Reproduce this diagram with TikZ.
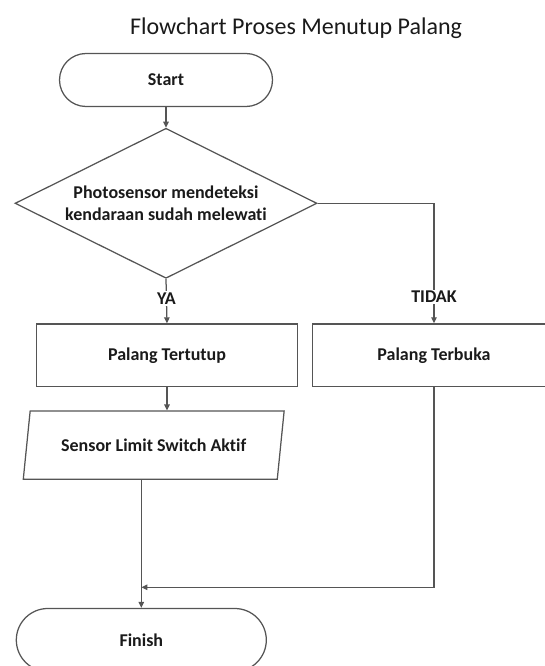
\documentclass[tikz,border=0pt]{standalone}
\usepackage{fontspec}
\setmainfont[Ligatures=NoCommon]{Carlito}
\usetikzlibrary{arrows.meta,shapes.geometric}
\definecolor{linec}{HTML}{555555}
\definecolor{textc}{HTML}{1A1A1A}
\begin{document}
\begin{tikzpicture}[x=1pt,y=-1pt,
  base/.style={draw=linec,line width=1.25pt,text=textc,font=\fontsize{18}{22}\selectfont\bfseries,inner sep=0pt,align=center},
  terminal/.style={base,rectangle,rounded corners=#1},
  procbox/.style={base,rectangle},
  decision/.style={base,diamond,aspect=2},
  iobox/.style={base,trapezium,trapezium left angle=68,trapezium right angle=112,trapezium stretches=true},
  lbl/.style={fill=white,text=textc,font=\fontsize{18}{21}\selectfont\bfseries,inner sep=1.5pt},
  arrow/.style={draw=linec,line width=1.25pt,-{Triangle[length=6pt,width=5.5pt]}},
  conn/.style={draw=linec,line width=1.25pt}
]
\useasboundingbox (0,0) rectangle (545,666);

\node[font=\fontsize{24}{28}\selectfont,text=textc,anchor=base] (title) at (296,35) {Flowchart Proses Menutup Palang};

\node[terminal=26.5pt,minimum width=213pt,minimum height=53pt] (start) at (166,80) {Start};
\node[decision,minimum width=302pt,minimum height=150pt] (dia) at (166,203.3) {Photosensor mendeteksi\\kendaraan sudah melewati};
\node[procbox,minimum width=261pt,minimum height=62.7pt] (tertutup) at (167,355.3) {Palang Tertutup};
\node[procbox,minimum width=243pt,minimum height=62.7pt] (terbuka) at (434,355.3) {Palang Terbuka};
\node[iobox,minimum width=261pt,minimum height=68.3pt] (sensor) at (153.7,445.2) {Sensor Limit Switch Aktif};
\node[terminal=31.5pt,minimum width=250pt,minimum height=63pt] (finish) at (141.3,640) {Finish};
\coordinate (join) at (141.3,587.3);

\draw[arrow] (start.south) -- (dia.north);
\draw[arrow] (dia.south) -- node[lbl,pos=0.44]{YA} (tertutup.north);
\draw[arrow] (dia.east) -| node[lbl,pos=0.89]{TIDAK} (terbuka.north);
\draw[arrow] (tertutup.south) -- (tertutup.south |- sensor.north);
\draw[arrow] (sensor.south -| finish.north) -- (finish.north);
\draw[arrow] (terbuka.south) |- (join);
\end{tikzpicture}
\end{document}
